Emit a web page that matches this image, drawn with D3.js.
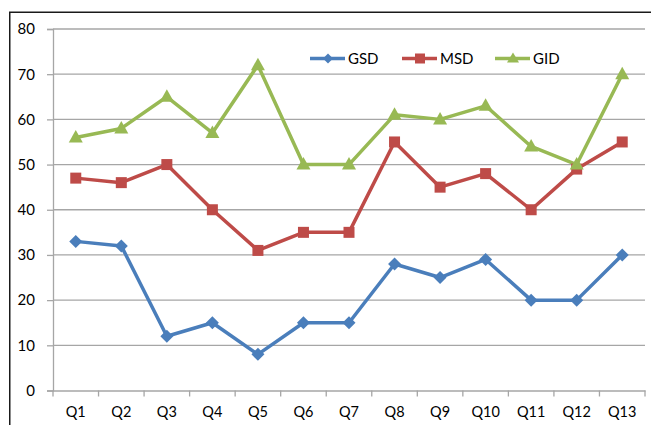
<!DOCTYPE html>
<html><head><meta charset="utf-8">
<script src="https://cdn.jsdelivr.net/npm/d3@7"></script>
<style>body{margin:0;background:#fff;} svg{display:block;}</style>
</head><body>
<svg id="c" width="651" height="425"></svg>
<script>
const categories = ["Q1","Q2","Q3","Q4","Q5","Q6","Q7","Q8","Q9","Q10","Q11","Q12","Q13"];
const gsd = [33,32,12,15,8,15,15,28,25,29,20,20,30];
const msd = [47,46,50,40,31,35,35,55,45,48,40,49,55];
const gid = [56,58,65,57,72,50,50,61,60,63,54,50,70];
const seriesNames = ["GSD","MSD","GID"];
const yTicks = [0,10,20,30,40,50,60,70,80];

const colors = {GSD:"#4a7ebb", MSD:"#be4b48", GID:"#98b954"};
const series = [
  {name:"GSD", values:gsd, shape:"diamond"},
  {name:"MSD", values:msd, shape:"square"},
  {name:"GID", values:gid, shape:"triangle"}
];
const font = "Lato, 'Open Sans', sans-serif";
const svg = d3.select("#c");

// outer border
svg.append("path").attr("d","M9.75,425 V12.25 H651").attr("fill","none").attr("stroke","#1a1a1a").attr("stroke-width",1.5);

const x = d3.scaleBand().domain(categories).range([53,645]);
const y = d3.scaleLinear().domain([0,80]).range([390.5,29]);

// gridlines
svg.append("g").selectAll("line").data(yTicks.filter(d=>d>0)).join("line")
  .attr("x1",53).attr("x2",645).attr("y1",d=>y(d)).attr("y2",d=>y(d))
  .attr("stroke","#a6a6a6").attr("stroke-width",1.3);

// y axis
const yAxis = svg.append("g").attr("transform","translate(53,0)")
  .call(d3.axisLeft(y).tickValues(yTicks).tickSize(6).tickPadding(12));
yAxis.select(".domain").attr("stroke","#a6a6a6").attr("stroke-width",1.3);
yAxis.selectAll(".tick line").attr("stroke","#a6a6a6").attr("stroke-width",1.3);
yAxis.selectAll("text").attr("font-family",font).attr("font-size",15).attr("fill","#000");

// x axis
const xAxis = svg.append("g").attr("transform","translate(0,390.5)")
  .call(d3.axisBottom(x).tickSize(0).tickPadding(16));
xAxis.select(".domain").attr("stroke","#a6a6a6").attr("stroke-width",1.3);
xAxis.selectAll("text").attr("font-family",font).attr("font-size",14.5).attr("fill","#000");
// boundary ticks
const bounds = categories.map(c=>x(c)).concat([x.range()[1]]);
xAxis.selectAll(".btick").data(bounds).join("line")
  .attr("x1",d=>d).attr("x2",d=>d).attr("y1",0).attr("y2",6)
  .attr("stroke","#a6a6a6").attr("stroke-width",1.3);

function marker(g, shape, color){
  if(shape==="diamond"){
    g.append("path").attr("d","M0,-6.5 L6.5,0 L0,6.5 L-6.5,0 Z").attr("fill",color);
  } else if(shape==="square"){
    g.append("rect").attr("x",-5.5).attr("y",-5.5).attr("width",11).attr("height",11).attr("fill",color);
  } else {
    g.append("path").attr("d","M0,-7.5 L7,5 L-7,5 Z").attr("fill",color);
  }
}

const line = d3.line().x((d,i)=>x(categories[i])+x.bandwidth()/2).y(d=>y(d));
series.forEach(s=>{
  svg.append("path").datum(s.values).attr("d",line).attr("fill","none")
    .attr("stroke",colors[s.name]).attr("stroke-width",3.5).attr("stroke-linejoin","round");
});
series.forEach(s=>{
  s.values.forEach((v,i)=>{
    const g = svg.append("g").attr("transform",`translate(${x(categories[i])+x.bandwidth()/2},${y(v)})`);
    marker(g, s.shape, colors[s.name]);
  });
});

// legend
const legX = [310, 402, 495];
series.forEach((s,i)=>{
  const g = svg.append("g").attr("transform",`translate(${legX[i]},58.5)`);
  g.append("line").attr("x1",0).attr("x2",35).attr("stroke",colors[s.name]).attr("stroke-width",3.5);
  const m = g.append("g").attr("transform","translate(18,0)");
  if(s.shape==="diamond") m.append("path").attr("d","M0,-5 L5,0 L0,5 L-5,0 Z").attr("fill",colors[s.name]);
  else if(s.shape==="square") m.append("rect").attr("x",-5).attr("y",-5).attr("width",10).attr("height",10).attr("fill",colors[s.name]);
  else m.append("path").attr("d","M0,-6 L6,4 L-6,4 Z").attr("fill",colors[s.name]);
  g.append("text").attr("x",38).attr("y",5.5).text(s.name)
    .attr("font-family",font).attr("font-size",15).attr("fill","#000");
});
</script>
</body></html>
